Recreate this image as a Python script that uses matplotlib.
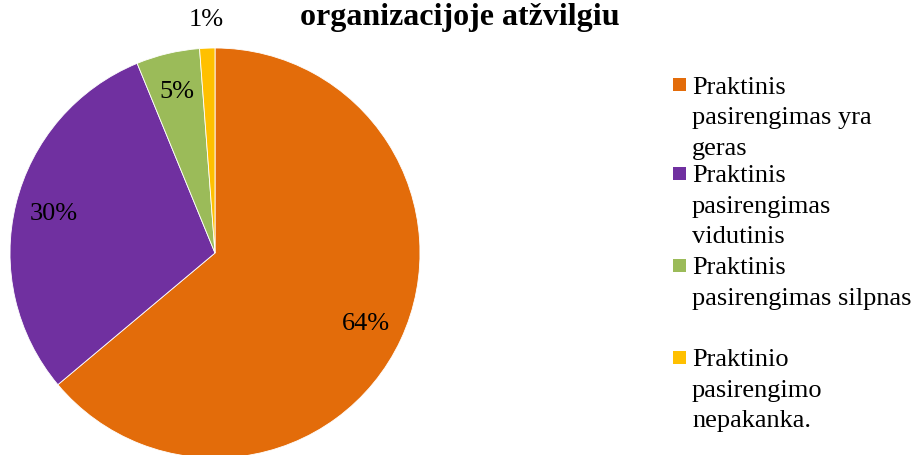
import matplotlib
matplotlib.use("Agg")
import matplotlib.pyplot as plt
from matplotlib.patches import Rectangle
import numpy as np

# Slice shares (%), clockwise from 12 o'clock
categories = [
    ["Praktinis", "pasirengimas yra", "geras"],
    ["Praktinis", "pasirengimas", "vidutinis"],
    ["Praktinis", "pasirengimas silpnas"],
    ["Praktinio", "pasirengimo", "nepakanka."],
]
shares = [63.9, 29.9, 5.0, 1.2]
pct_labels = ["64%", "30%", "5%", "1%"]
colors = ["#E36C0A", "#7030A0", "#9BBB59", "#FFC000"]
title = "organizacijoje atžvilgiu"

W, H = 917, 456
plt.rcParams["font.family"] = ["Liberation Serif", "DejaVu Serif"]

fig = plt.figure(figsize=(W / 100, H / 100), dpi=100)

# pie: centre (215, 254) px from top-left, radius 205 px
cx, cy, r = 215, 254, 205
ax = fig.add_axes([(cx - r) / W, (H - cy - r) / H, 2 * r / W, 2 * r / H])
wedges, _ = ax.pie(shares, colors=colors, startangle=90, counterclock=False,
                   radius=1.0, wedgeprops=dict(edgecolor="white", linewidth=0.6))
ax.set_xlim(-1, 1)
ax.set_ylim(-1, 1)
ax.set_aspect("equal")
ax.axis("off")

# percentage labels at the wedge mid-angles; the tiny slice sits outside
for w, lab, i in zip(wedges, pct_labels, range(len(shares))):
    ang = np.deg2rad((w.theta1 + w.theta2) / 2)
    dist = 1.14 if i == 3 else 0.81
    ax.text(dist * np.cos(ang), dist * np.sin(ang), lab, ha="center", va="center",
            fontsize=19, color="black", clip_on=False)

fig.text(460 / W, 1 - 17 / H, title, ha="center", va="center",
         fontsize=23, fontweight="bold")

# legend drawn by hand: marker on the first line, wrapped text below
first_line_y = [85, 174, 266, 358]
pitch = 30.5
for lines, col, y0 in zip(categories, colors, first_line_y):
    fig.patches.append(Rectangle((673 / W, 1 - (y0 + 6.5) / H), 13 / W, 13 / H,
                                 transform=fig.transFigure, facecolor=col,
                                 edgecolor="none"))
    for k, line in enumerate(lines):
        fig.text(692 / W, 1 - (y0 + k * pitch) / H, line, ha="left",
                 va="center_baseline", fontsize=19)

fig.savefig("out.png", dpi=100)
